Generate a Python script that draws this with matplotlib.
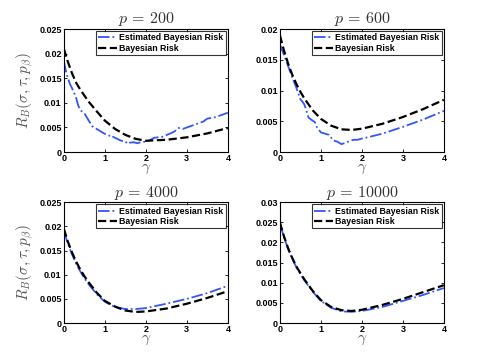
import matplotlib
matplotlib.use('Agg')
import matplotlib.pyplot as plt
from matplotlib.ticker import FuncFormatter

plt.rcParams['mathtext.fontset'] = 'cm'
plt.rcParams['font.family'] = 'Liberation Sans'

# gamma grid for the theoretical curves
gamma = [0, 0.1, 0.2, 0.3, 0.4, 0.5, 0.6, 0.8, 1.0, 1.25, 1.5, 1.75, 2.0, 2.5, 3.0, 3.5, 4.0]

# p = 200
risk_200 = [0.0210, 0.0183, 0.0160, 0.0141, 0.0127, 0.0115, 0.0103, 0.0083, 0.0064, 0.0047, 0.0035, 0.0027,
            0.0023, 0.0025, 0.0030, 0.0038, 0.0049]
gamma_est_200 = [0, 0.05, 0.1, 0.15, 0.2, 0.3, 0.35, 0.4, 0.5, 0.55, 0.6, 0.7, 0.8, 0.9, 1.0, 1.1, 1.15, 1.2,
                 1.3, 1.4, 1.5, 1.55, 1.6, 1.7, 1.8, 1.9, 2.0, 2.1, 2.2, 2.4, 2.6, 2.7, 2.8, 2.9, 3.0, 3.2,
                 3.4, 3.5, 3.7, 4.0]
est_200 = [0.0185, 0.0165, 0.0150, 0.0138, 0.0130, 0.0110, 0.0095, 0.0085, 0.0079, 0.0072, 0.0065, 0.0052,
           0.0047, 0.0042, 0.0037, 0.0034, 0.0030, 0.0031, 0.0027, 0.0023, 0.0022, 0.0017, 0.0019, 0.0020,
           0.0018, 0.0021, 0.0021, 0.0024, 0.0029, 0.0031, 0.0038, 0.0042, 0.0049, 0.0047, 0.0050, 0.0056,
           0.0062, 0.0068, 0.0071, 0.0080]

# p = 600
risk_600 = [0.0190, 0.0165, 0.0144, 0.0126, 0.0111, 0.0098, 0.0087, 0.0068, 0.0054, 0.0043, 0.0037, 0.0036,
            0.0038, 0.0046, 0.0057, 0.0070, 0.0085]
gamma_est_600 = [0, 0.1, 0.2, 0.3, 0.4, 0.5, 0.55, 0.6, 0.7, 0.8, 0.85, 0.9, 1.0, 1.1, 1.2, 1.3, 1.4, 1.5,
                 1.6, 1.7, 1.8, 1.9, 2.0, 2.2, 2.5, 3.0, 3.5, 4.0]
est_600 = [0.0175, 0.0158, 0.0140, 0.0122, 0.0105, 0.0086, 0.0082, 0.0077, 0.0056, 0.0051, 0.0049, 0.0041,
           0.0032, 0.0030, 0.0028, 0.0019, 0.0017, 0.0013, 0.0015, 0.0018, 0.0020, 0.0020, 0.0022, 0.0025,
           0.0030, 0.0041, 0.0053, 0.0067]

# p = 4000
risk_4000 = [0.0195, 0.0168, 0.0146, 0.0127, 0.0111, 0.0097, 0.0085, 0.0063, 0.0046, 0.0034, 0.0026, 0.0023,
             0.0024, 0.0030, 0.0040, 0.0052, 0.0066]
est_4000 = [0.0190, 0.0164, 0.0142, 0.0123, 0.0107, 0.0093, 0.0081, 0.0060, 0.0044, 0.0033, 0.0029, 0.0029,
            0.0031, 0.0040, 0.0050, 0.0062, 0.0077]

# p = 10000
risk_10000 = [0.0250, 0.0215, 0.0186, 0.0162, 0.0141, 0.0124, 0.0108, 0.0080, 0.0057, 0.0040, 0.0032, 0.0030,
              0.0033, 0.0045, 0.0060, 0.0077, 0.0094]
est_10000 = [0.0248, 0.0213, 0.0184, 0.0160, 0.0139, 0.0122, 0.0106, 0.0078, 0.0055, 0.0038, 0.0029, 0.0028,
             0.0030, 0.0040, 0.0055, 0.0070, 0.0087]

panels = [
    (r'$p\,=\,200$', gamma_est_200, est_200, risk_200, 0.025, True),
    (r'$p\,=\,600$', gamma_est_600, est_600, risk_600, 0.02, False),
    (r'$p\,=\,4000$', gamma, est_4000, risk_4000, 0.025, True),
    (r'$p\,=\,10000$', gamma, est_10000, risk_10000, 0.03, False),
]

positions = [
    [0.130, 0.581, 0.334, 0.339],
    [0.570, 0.581, 0.334, 0.339],
    [0.130, 0.110, 0.334, 0.333],
    [0.570, 0.110, 0.334, 0.333],
]

fig = plt.figure(figsize=(4.91, 3.63), dpi=100)

for pos, (title, g_est, est, risk, ymax, ylab) in zip(positions, panels):
    ax = fig.add_axes(pos)
    ax.plot(g_est, est, color='#3355ff', linestyle='-.', linewidth=1.3, label='Estimated Bayesian Risk')
    ax.plot(gamma, risk, color='black', linestyle='--', linewidth=1.6, label='Bayesian Risk')
    ax.set_xlim(0, 4)
    ax.set_ylim(0, ymax)
    ax.set_xticks([0, 1, 2, 3, 4])
    n = int(round(ymax / 0.005))
    ax.set_yticks([0.005 * i for i in range(n + 1)])
    ax.yaxis.set_major_formatter(FuncFormatter(lambda v, _: '%g' % round(v, 4)))
    ax.tick_params(direction='in', length=2.5, width=0.6, top=True, right=True, labelsize=6.5, pad=1.5)
    for lbl in ax.get_xticklabels() + ax.get_yticklabels():
        lbl.set_fontweight('bold')
    for s in ax.spines.values():
        s.set_linewidth(0.8)
    ax.set_title(title, fontsize=11.5, color='#333333', pad=4)
    ax.set_xlabel(r'$\gamma$', fontsize=11, color='#555555', labelpad=-1)
    if ylab:
        ax.set_ylabel(r'$R_B(\sigma, \tau, p_\beta)$', fontsize=11, color='#555555', labelpad=2)
    leg = ax.legend(loc='upper right', prop={'weight': 'bold', 'size': 6.3},
                    frameon=True, fancybox=False, edgecolor='black', borderaxespad=0.25,
                    handlelength=2.1, handletextpad=0.3, borderpad=0.25, labelspacing=0.15)
    leg.get_frame().set_linewidth(0.8)

plt.savefig('out.png', dpi=100)
